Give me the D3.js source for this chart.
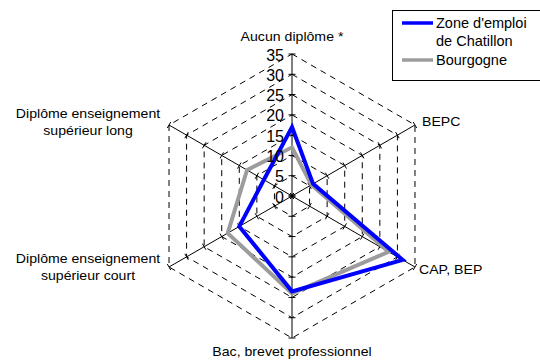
<!DOCTYPE html>
<html>
<head>
<meta charset="utf-8">
<script src="https://cdn.jsdelivr.net/npm/d3@7"></script>
<style>
  body { margin: 0; background: #fff; }
  svg { font-family: "Liberation Sans", Arial, sans-serif; }
</style>
</head>
<body>
<svg id="chart" width="540" height="360"></svg>
<script>
const categories = ["Aucun diplôme *", "BEPC", "CAP, BEP", "Bac, brevet professionnel",
  "Diplôme enseignement supérieur court", "Diplôme enseignement supérieur long"];
const chatillon = [17, 6, 31.5, 23.5, 15, 8];
const bourgogne = [12, 5.5, 27.5, 24, 18.3, 12.8];
const levels = [0, 5, 10, 15, 20, 25, 30, 35];
const seriesNames = ["Zone d'emploi de Chatillon", "Bourgogne"];

const svg = d3.select("#chart");
const cx = 292, cy = 196;

const r = d3.scaleLinear().domain([0, 35]).range([0, 142]);
const angle = d3.scaleLinear().domain([0, categories.length]).range([0, 2 * Math.PI]);

// point on axis i at value v
function pt(i, v) {
  const a = angle(i);
  return [cx + r(v) * Math.sin(a), cy - r(v) * Math.cos(a)];
}

const g = svg.append("g");

// dashed rings
levels.slice(1).forEach(lv => {
  const ring = categories.map((c, i) => pt(i, lv));
  g.append("path")
    .attr("d", d3.line()(ring) + "Z")
    .attr("fill", "none")
    .attr("stroke", "#000")
    .attr("stroke-width", 1)
    .attr("stroke-dasharray", "6,5");
});

// axes with tick marks
categories.forEach((c, i) => {
  const [x2, y2] = pt(i, 35);
  g.append("line")
    .attr("x1", cx).attr("y1", cy).attr("x2", x2).attr("y2", y2)
    .attr("stroke", "#000").attr("stroke-width", 1);
  const a = angle(i);
  const px = Math.cos(a), py = Math.sin(a);
  levels.forEach(lv => {
    const [x, y] = pt(i, lv);
    g.append("line")
      .attr("x1", x - px * 3.5).attr("y1", y - py * 3.5)
      .attr("x2", x + px * 3.5).attr("y2", y + py * 3.5)
      .attr("stroke", "#000").attr("stroke-width", 1);
  });
});

// series
const series = [
  { name: seriesNames[1], values: bourgogne, color: "#9c9c9c" },
  { name: seriesNames[0], values: chatillon, color: "#0000ff" }
];
series.forEach(s => {
  g.append("path")
    .attr("d", d3.line()(s.values.map((v, i) => pt(i, v))) + "Z")
    .attr("fill", "none")
    .attr("stroke", s.color)
    .attr("stroke-width", 4)
    .attr("stroke-linejoin", "miter");
});

// value labels on the top axis
levels.forEach(lv => {
  g.append("text")
    .attr("x", cx - 8)
    .attr("y", pt(0, lv)[1] + 6.5)
    .attr("text-anchor", "end")
    .attr("font-size", 16)
    .attr("fill", "#000")
    .text(lv);
});

// category labels (the original text is slightly stretched horizontally)
const labelPos = [
  { x: 292, y: 41, lines: ["Aucun diplôme *"], anchor: "middle" },
  { x: 422, y: 126, lines: ["BEPC"], anchor: "start" },
  { x: 419, y: 274, lines: ["CAP, BEP"], anchor: "start" },
  { x: 292, y: 356, lines: ["Bac, brevet professionnel"], anchor: "middle" },
  { x: 88, y: 263, lines: ["Diplôme enseignement", "supérieur court"], anchor: "middle" },
  { x: 88, y: 118, lines: ["Diplôme enseignement", "supérieur long"], anchor: "middle" }
];
labelPos.forEach(lp => {
  const t = svg.append("text")
    .attr("transform", `translate(${lp.x},${lp.y}) scale(1.13,1)`)
    .attr("text-anchor", lp.anchor)
    .attr("font-size", 12.5)
    .attr("fill", "#000");
  lp.lines.forEach((ln, k) => {
    t.append("tspan").attr("x", 0).attr("y", k * 17).text(ln);
  });
});

// legend
const lg = svg.append("g");
lg.append("rect")
  .attr("x", 392.5).attr("y", 10.5).attr("width", 160).attr("height", 70)
  .attr("fill", "#fff").attr("stroke", "#000");
lg.append("line").attr("x1", 402).attr("x2", 433).attr("y1", 23).attr("y2", 23)
  .attr("stroke", "#0000ff").attr("stroke-width", 3.5);
lg.append("text").attr("x", 436).attr("y", 28).attr("font-size", 14.5).text("Zone d'emploi");
lg.append("text").attr("x", 436).attr("y", 46).attr("font-size", 14.5).text("de Chatillon");
lg.append("line").attr("x1", 402).attr("x2", 433).attr("y1", 60).attr("y2", 60)
  .attr("stroke", "#9c9c9c").attr("stroke-width", 3.5);
lg.append("text").attr("x", 436).attr("y", 65).attr("font-size", 14.5).text(seriesNames[1]);
</script>
</body>
</html>
